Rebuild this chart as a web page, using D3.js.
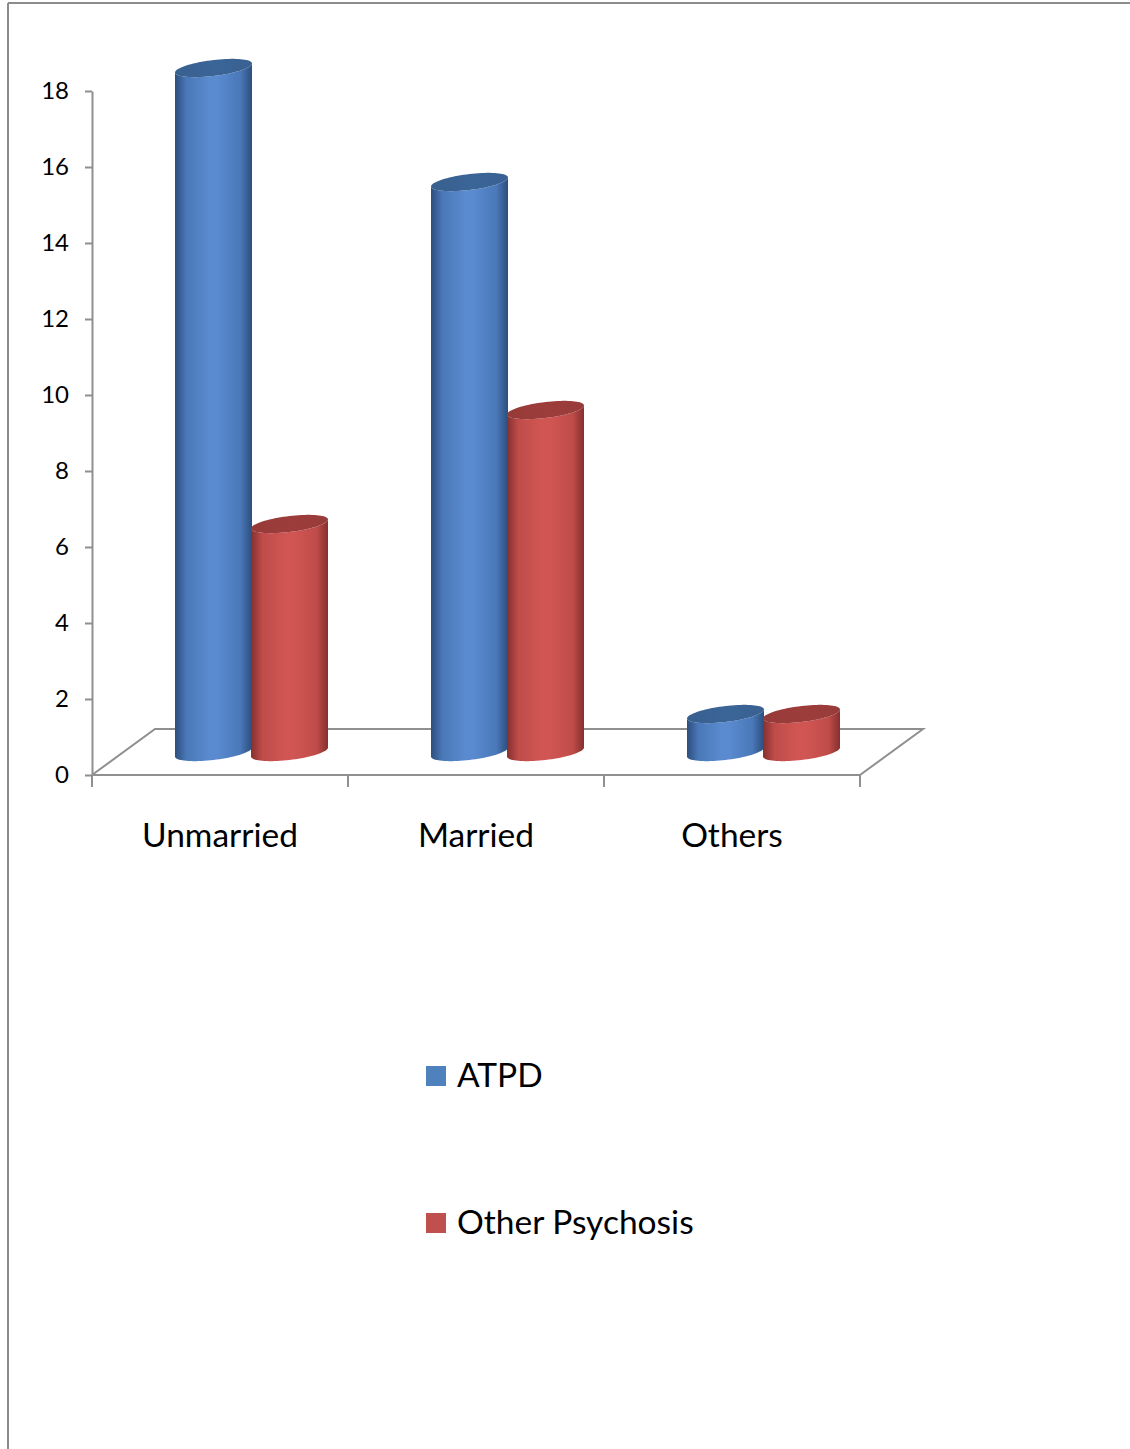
<!DOCTYPE html>
<html>
<head>
<meta charset="utf-8">
<script src="https://cdn.jsdelivr.net/npm/d3@7"></script>
<style>
  html, body { margin: 0; padding: 0; background: #fff; }
  svg { display: block; font-family: Lato, "Open Sans", "Liberation Sans", sans-serif; }
</style>
</head>
<body>
<svg id="chart" width="1130" height="1449"></svg>
<script>
// Marital status by diagnosis group
const categories = ["Unmarried", "Married", "Others"];
const seriesNames = ["ATPD", "Other Psychosis"];
const atpdValues = [18, 15, 1];
const otherPsychosisValues = [6, 9, 1];
const yTicks = [0, 2, 4, 6, 8, 10, 12, 14, 16, 18];

const seriesValues = [atpdValues, otherPsychosisValues];
const palette = {
  "ATPD": { edge: "#2c4e7d", mid: "#4a78b8", light: "#5a8bd0", top: "#3b6597", legend: "#4f81bd" },
  "Other Psychosis": { edge: "#853030", mid: "#bf4c49", light: "#d15653", top: "#9d3d3b", legend: "#c0504d" }
};

const svg = d3.select("#chart");
const defs = svg.append("defs");

// Plot frame (front plane) and depth offset of the 3D floor
const plot = { left: 92, right: 860, top: 91, bottom: 775 };
const depth = { dx: 63, dy: -46 };
const mid = { dx: depth.dx / 2, dy: depth.dy / 2 };

const y = d3.scaleLinear().domain([0, 18]).range([plot.bottom, plot.top]);
const x0 = d3.scaleBand().domain(categories).range([plot.left, plot.right]);
const x1 = d3.scaleBand().domain(seriesNames).range([52, 204]);

// Outer border
const border = svg.append("g").attr("stroke", "#8c8c8c").attr("stroke-width", 2).attr("fill", "none");
border.append("line").attr("x1", 8).attr("y1", 3).attr("x2", 8).attr("y2", 1449);
border.append("line").attr("x1", 8).attr("y1", 3).attr("x2", 1130).attr("y2", 3);

// Gradients for cylinder sides and tops
seriesNames.forEach((s, i) => {
  const c = palette[s];
  const g = defs.append("linearGradient").attr("id", "side" + i)
    .attr("x1", "0%").attr("x2", "100%").attr("y1", "0%").attr("y2", "0%");
  [[0, c.edge], [0.15, c.mid], [0.45, c.light], [0.55, c.light], [0.85, c.mid], [1, c.edge]]
    .forEach(([o, col]) => g.append("stop").attr("offset", o).attr("stop-color", col));
  const t = defs.append("linearGradient").attr("id", "top" + i)
    .attr("x1", "0%").attr("x2", "100%").attr("y1", "0%").attr("y2", "0%");
  [[0, d3.color(c.top).darker(0.15)], [0.5, c.top], [1, d3.color(c.top).darker(0.1)]]
    .forEach(([o, col]) => t.append("stop").attr("offset", o).attr("stop-color", col));
});

// Floor
const floor = svg.append("g").attr("stroke", "#8f8f8f").attr("stroke-width", 2).attr("fill", "none");
floor.append("path").attr("d", d3.line()([
  [plot.left, plot.bottom],
  [plot.left + depth.dx, plot.bottom + depth.dy],
  [plot.right + depth.dx, plot.bottom + depth.dy],
  [plot.right, plot.bottom]
]));
floor.append("line").attr("x1", plot.left).attr("x2", plot.right)
  .attr("y1", plot.bottom).attr("y2", plot.bottom);

// Category tick marks on the floor's front edge
const catTicks = categories.map(c => x0(c)).concat([x0.range()[1]]);
floor.selectAll("line.ct").data(catTicks).join("line").attr("class", "ct")
  .attr("x1", d => d).attr("x2", d => d)
  .attr("y1", plot.bottom).attr("y2", plot.bottom + 12);

// Value axis
const yAxis = svg.append("g").attr("transform", `translate(${plot.left},0)`)
  .call(d3.axisLeft(y).tickValues(yTicks).tickSize(7).tickPadding(16).tickSizeOuter(0));
yAxis.select(".domain").attr("stroke", "#8f8f8f").attr("stroke-width", 2);
yAxis.selectAll(".tick line").attr("stroke", "#8f8f8f").attr("stroke-width", 2);
yAxis.selectAll(".tick text").attr("font-size", 24).attr("fill", "#000")
  .attr("font-family", "Lato, 'Open Sans', sans-serif");

// Cylinders
const rx = x1.bandwidth() / 2 + 0.5;
const ry = 8;
const tilt = 4.5;
function ellipsePt(cx, cy, th) {
  return [cx + rx * Math.cos(th), cy + ry * Math.sin(th) - tilt * Math.cos(th)];
}
function arcPts(cx, cy, a0, a1, n = 40) {
  return d3.range(n + 1).map(k => ellipsePt(cx, cy, a0 + (a1 - a0) * k / n));
}

const bars = [];
categories.forEach((c, ci) => {
  seriesNames.forEach((s, si) => {
    bars.push({ category: c, series: s, si, value: seriesValues[si][ci] });
  });
});

const barG = svg.append("g");
bars.forEach(b => {
  const cx = x0(b.category) + mid.dx + x1(b.series) + x1.bandwidth() / 2;
  const yBase = y(0) + mid.dy;
  const yTop = y(b.value) + mid.dy;
  // side: top-left -> bottom-left -> front half of base -> top-right -> front half of top back
  const pts = [ellipsePt(cx, yTop, Math.PI)]
    .concat(arcPts(cx, yBase, Math.PI, 0))
    .concat(arcPts(cx, yTop, 0, Math.PI));
  const g = barG.append("g");
  g.append("path")
    .attr("d", d3.line()(pts) + "Z")
    .attr("fill", `url(#side${b.si})`);
  g.append("path")
    .attr("d", d3.line()(arcPts(cx, yTop, 0, 2 * Math.PI, 80)) + "Z")
    .attr("fill", `url(#top${b.si})`);
});

// Category labels
svg.append("g").selectAll("text").data(categories).join("text")
  .attr("x", d => x0(d) + x0.bandwidth() / 2)
  .attr("y", 847)
  .attr("text-anchor", "middle")
  .attr("font-size", 33.5)
  .attr("fill", "#000")
  .text(d => d);

// Legend
const legend = svg.append("g").selectAll("g").data(seriesNames).join("g")
  .attr("transform", (d, i) => `translate(426,${1066 + i * 147})`);
legend.append("rect").attr("width", 20).attr("height", 20)
  .attr("fill", d => palette[d].legend);
legend.append("text").attr("x", 31).attr("y", 21)
  .attr("font-size", 33.5).attr("fill", "#000").text(d => d);
</script>
</body>
</html>
